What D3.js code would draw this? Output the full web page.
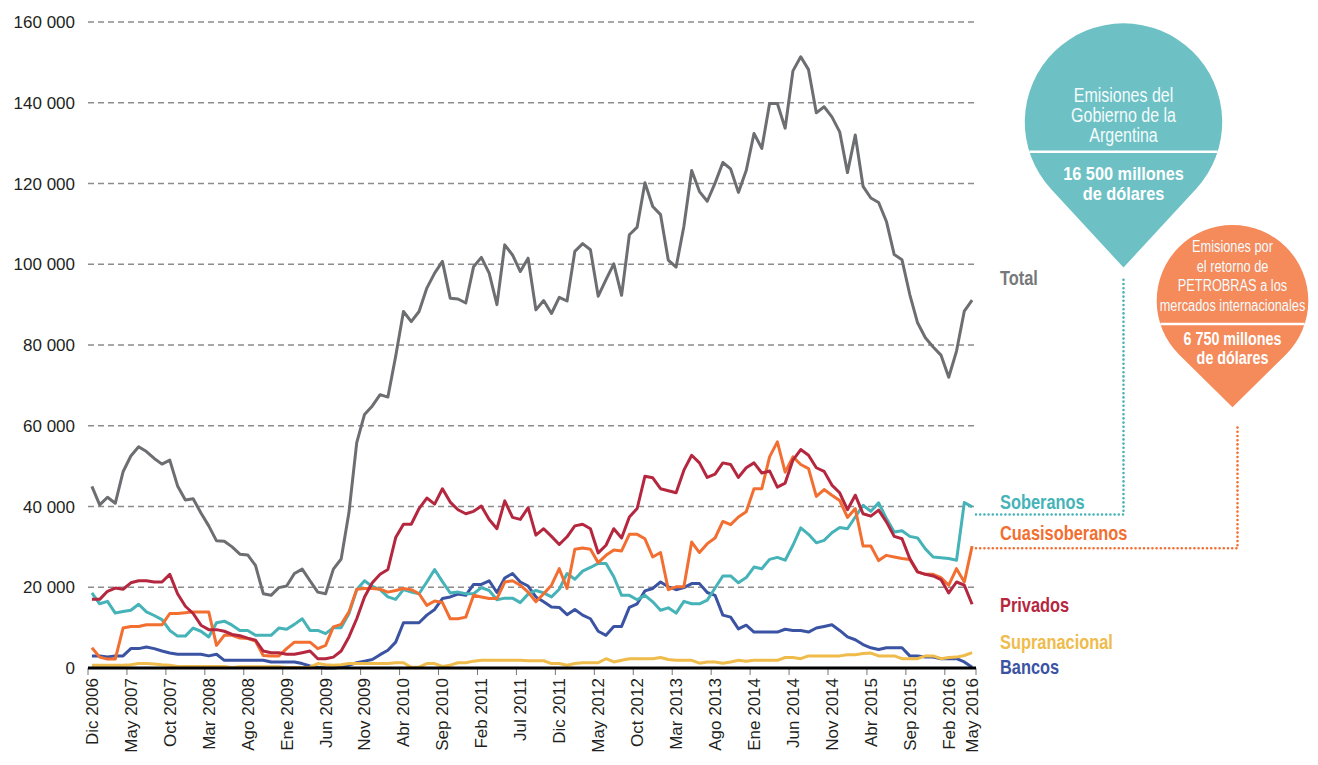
<!DOCTYPE html>
<html>
<head>
<meta charset="utf-8">
<script src="https://cdn.jsdelivr.net/npm/d3@7"></script>
<style>
  body { margin: 0; background: #fff; }
  svg { display: block; }
</style>
</head>
<body>
<script>
// emisiones de deuda, millones de dólares, dic 2006 - may 2016 (mensual)
const tickLabels = ['Dic 2006','May 2007','Oct 2007','Mar 2008','Ago 2008','Ene 2009','Jun 2009','Nov 2009',
  'Abr 2010','Sep 2010','Feb 2011','Jul 2011','Dic 2011','May 2012','Oct 2012','Mar 2013','Ago 2013',
  'Ene 2014','Jun 2014','Nov 2014','Abr 2015','Sep 2015','Feb 2016','May 2016'];
const tickIndex = [0,5,10,15,20,25,30,35,40,45,50,55,60,65,70,75,80,85,90,95,100,105,110,113];
const yTicks = [0,20000,40000,60000,80000,100000,120000,140000,160000];

const total = [45000,40400,42300,40800,48600,52500,54800,53600,51900,50500,
  51500,45100,41600,41900,38400,35200,31500,31400,30000,28200,
  28000,25400,18400,18000,19900,20300,23400,24500,21600,18800,
  18400,24500,27000,38500,55800,62800,64900,67700,67100,77200,
  88300,85800,88300,94100,97800,100700,91600,91400,90400,99400,
  101700,97800,90000,104800,102300,98200,101500,88700,91000,87800,
  91800,90900,103200,105100,103600,92100,96200,100100,92300,107300,
  109200,120200,114300,112300,101000,99300,109400,123200,118000,115600,
  120100,125200,123600,117800,123200,132400,128700,139800,139800,133700,
  147900,151400,148200,137500,139000,136500,132800,122700,132000,119300,
  116400,115300,110600,102400,101100,92500,85500,81800,79500,77500,
  72000,78500,88400,91100];

const privados = [17000,17000,19000,19800,19500,21100,21600,21600,21300,21300,
  23200,18400,15300,13500,10600,9500,9500,9100,8300,8000,
  7400,6900,4200,3800,3800,3400,3400,3800,4200,2300,
  2300,2700,4200,7700,12200,17600,21100,23200,24400,32300,
  35600,35600,39500,42100,40600,44400,41100,39200,38200,38800,
  40100,36800,34500,41400,37300,36800,39700,32900,34500,32600,
  30600,32500,35200,35600,34500,28500,30400,34500,32200,37400,
  39500,47500,47100,44400,43900,43400,49000,52700,50800,47200,
  48000,50800,50400,47200,49600,50800,48300,48800,44800,45800,
  51500,54100,52700,49600,48700,45300,43400,39200,42800,38200,
  37600,39100,36200,32600,32000,27100,23800,23200,22800,21900,
  18600,21300,20500,15800];

const cuasisoberanos = [5000,2700,2200,2200,9900,10300,10300,10700,10700,10700,
  13500,13500,13700,13900,13900,13900,5600,8100,8100,7400,
  7300,6700,3100,3000,3000,4800,6400,6400,6400,4800,
  5600,10200,10800,13900,19500,19700,19700,19500,18800,19200,
  19700,19400,18400,15500,16600,16200,12200,12200,12600,18000,
  17600,17200,17200,21300,21600,20500,18800,16400,18400,20500,
  24600,19700,29400,29700,29400,26100,27900,29200,29000,33100,
  33100,32000,27500,28600,19400,20100,20100,31200,28600,30800,
  32200,36300,35500,37400,38700,44400,44400,52300,56000,48500,
  52300,50400,49400,42500,44200,42800,41500,37300,39500,30200,
  30200,26600,27900,27500,27100,26900,23800,23200,23200,22400,
  20500,24600,21300,30200];

const soberanos = [18600,15900,16500,13600,14000,14300,15800,13900,13000,12000,
  9300,7900,7900,9900,9100,7700,11200,11600,10600,9300,
  9300,8100,8100,8100,9900,9600,10800,12200,9300,9300,
  8500,10000,10000,13500,19400,21600,20200,19400,17600,17000,
  19400,18800,18400,21300,24400,21400,18600,18800,18400,18400,
  19900,19200,16900,17300,17300,16200,18300,19200,18600,17600,
  19500,23400,22000,24000,24900,25900,25900,22600,18000,18000,
  16900,18000,16400,14300,14900,13600,16500,15900,15900,16800,
  19800,22800,22800,21100,22400,25000,24600,26900,27400,26700,
  30400,34700,33100,31000,31600,33500,34800,34500,37400,40300,
  38800,40900,37000,33700,34000,32600,32200,29500,27500,27300,
  27100,26700,41000,39900];

const bancos = [3000,3000,2700,3000,3000,4800,4800,5200,4800,4200,
  3700,3400,3400,3400,3400,3000,3400,1900,1900,1900,
  1900,1900,1900,1500,1500,1500,1500,1100,500,200,
  0,0,200,700,1300,1700,2100,3300,4400,6400,
  11200,11200,11200,13100,14500,17200,17600,18300,18000,20700,
  20700,21600,18700,22300,23400,21300,20300,17600,16400,15100,
  15000,13200,14500,13100,12200,9100,8100,10300,10300,15000,
  15900,19100,19700,21300,20100,19400,19900,20900,20900,18700,
  18000,13100,12600,9700,10600,8900,8900,8900,8900,9600,
  9300,9300,8900,9900,10300,10700,9300,7700,7000,5800,
  5000,4600,5000,5000,5000,3000,3000,2700,2700,2300,
  2300,2300,1500,200];

const supranacional = [700,700,700,700,700,800,1100,1100,1000,800,
  700,400,400,400,400,400,400,400,100,300,
  300,300,300,300,300,100,100,100,200,1100,
  800,700,800,1100,1100,1100,1100,1100,1100,1300,
  1300,200,200,1100,1100,400,700,1300,1300,1700,
  1900,1900,1900,1900,1900,1900,1800,1800,1800,1100,
  1100,700,1100,1300,1300,1300,2300,1500,1900,2300,
  2300,2300,2300,2600,2100,1900,1900,1900,1200,1500,
  1500,1200,1500,1900,1700,1900,1900,1900,1900,2600,
  2600,2300,3000,3000,3000,3000,3000,3300,3300,3600,
  3700,3000,3000,3000,2300,2300,2300,3000,3000,2300,
  2600,2700,3100,3800];

const series = [
  { name: 'Bancos',         values: bancos,         color: '#3b53a3', labelY: 674 },
  { name: 'Supranacional',  values: supranacional,  color: '#efbb4b', labelY: 649 },
  { name: 'Soberanos',      values: soberanos,      color: '#45b3b8', labelY: 509 },
  { name: 'Cuasisoberanos', values: cuasisoberanos, color: '#f26f31', labelY: 540 },
  { name: 'Privados',       values: privados,       color: '#b5263f', labelY: 612 },
  { name: 'Total',          values: total,          color: '#6d6e71', labelY: 285 }
];

const W = 1318, H = 765;
const svg = d3.select('body').append('svg').attr('width', W).attr('height', H);

const n = total.length;
const x = d3.scaleLinear().domain([-0.5, n - 0.5]).range([88, 976]);
const y = d3.scaleLinear().domain([0, 160000]).range([668, 22]);

const fmt = v => d3.format(',')(v).replace(/,/g, ' ');
const axisFont = '"Liberation Sans", Arial, sans-serif';
// condensed look: Arial metrics squeezed horizontally
const squeeze = 0.82;

// gridlines
svg.append('g').selectAll('line')
  .data(yTicks.filter(d => d > 0))
  .join('line')
  .attr('x1', 88).attr('x2', 977)
  .attr('y1', d => y(d)).attr('y2', d => y(d))
  .attr('stroke', '#8c8c8c').attr('stroke-width', 1.3)
  .attr('stroke-dasharray', '6 4');

// y labels
svg.append('g').selectAll('text')
  .data(yTicks)
  .join('text')
  .attr('x', 75).attr('y', d => y(d))
  .attr('dy', '0.36em')
  .attr('text-anchor', 'end')
  .attr('font-family', axisFont).attr('font-size', 17)
  .attr('fill', '#231f20')
  .text(fmt);

// x ticks (between categories)
const tickPos = tickIndex.slice(0, -1).map(i => x(i - 0.5)).concat([x(n - 0.5)]);
svg.append('g').selectAll('line')
  .data(tickPos)
  .join('line')
  .attr('x1', d => d).attr('x2', d => d)
  .attr('y1', 668).attr('y2', 675)
  .attr('stroke', '#777').attr('stroke-width', 1);

// x labels
svg.append('g').selectAll('text')
  .data(tickIndex)
  .join('text')
  .attr('transform', d => `translate(${Math.min(x(d), 974)},678) rotate(-90)`)
  .attr('dy', '0.35em')
  .attr('text-anchor', 'end')
  .attr('font-family', axisFont).attr('font-size', 17)
  .attr('fill', '#231f20')
  .text((d, i) => tickLabels[i]);

// lines
const line = d3.line().x((d, i) => x(i)).y(d => y(d));
svg.append('g').selectAll('path')
  .data(series)
  .join('path')
  .attr('d', s => line(s.values))
  .attr('fill', 'none')
  .attr('stroke', s => s.color)
  .attr('stroke-width', 3)
  .attr('stroke-linejoin', 'round');

// baseline
svg.append('line')
  .attr('x1', 88).attr('x2', 976)
  .attr('y1', y(0)).attr('y2', y(0))
  .attr('stroke', '#000').attr('stroke-width', 3);

// series labels
svg.append('g').selectAll('text')
  .data(series)
  .join('text')
  .attr('transform', s => `translate(1000,${s.labelY}) scale(${squeeze},1)`)
  .attr('font-family', axisFont).attr('font-weight', 'bold').attr('font-size', 20)
  .attr('fill', s => s.name === 'Total' ? '#77787b' : s.color)
  .text(s => s.name);

// teardrop callouts
function pin(cx, cy, r, py) {
  const d = py - cy;
  const t = Math.acos(r / d);
  const tx = r * Math.sin(t), ty = r * Math.cos(t);
  return `M${cx},${py} L${cx + tx},${cy + ty} A${r},${r} 0 1 0 ${cx - tx},${cy + ty} Z`;
}

const callouts = [
  { cx: 1123.5, cy: 122, r: 98.7, py: 267.5, fill: '#6dc1c5', divY: 151.7,
    lines: ['Emisiones del', 'Gobierno de la', 'Argentina'], lineY: [101.7, 121.7, 141.7], fs: 19.5,
    bold: ['16 500 millones', 'de dólares'], boldY: [180, 200], bfs: 19, bsq: 0.86,
    lead: [[976, 514.5], [1123.5, 514.5], [1123.5, 276]], leadColor: '#45b3b8' },
  { cx: 1232.5, cy: 300.8, r: 75.8, py: 407.3, fill: '#f58a5b', divY: 324,
    lines: ['Emisiones por', 'el retorno de', 'PETROBRAS a los', 'mercados internacionales'],
    lineY: [251.7, 271.5, 291, 311], fs: 15.6,
    bold: ['6 750 millones', 'de dólares'], boldY: [345, 364], bfs: 17.5, bsq: 0.82,
    lead: [[976, 548.3], [1237.5, 548.3], [1237.5, 425]], leadColor: '#f26f31' }
];

callouts.forEach(c => {
  const g = svg.append('g');
  g.append('path').attr('d', pin(c.cx, c.cy, c.r, c.py)).attr('fill', c.fill);
  const hw = Math.sqrt(c.r * c.r - (c.divY - c.cy) ** 2);
  g.append('line')
    .attr('x1', c.cx - hw).attr('x2', c.cx + hw)
    .attr('y1', c.divY).attr('y2', c.divY)
    .attr('stroke', '#fff').attr('stroke-width', 2.5);
  g.selectAll('text.l').data(c.lines).join('text').attr('class', 'l')
    .attr('transform', (d, i) => `translate(${c.cx},${c.lineY[i]}) scale(${squeeze},1)`)
    .attr('text-anchor', 'middle')
    .attr('font-family', axisFont).attr('font-size', c.fs)
    .attr('fill', '#f4fbfb')
    .text(d => d);
  g.selectAll('text.b').data(c.bold).join('text').attr('class', 'b')
    .attr('transform', (d, i) => `translate(${c.cx},${c.boldY[i]}) scale(${c.bsq},1)`)
    .attr('text-anchor', 'middle')
    .attr('font-family', axisFont).attr('font-weight', 'bold').attr('font-size', c.bfs)
    .attr('fill', '#fff')
    .text(d => d);
  svg.append('path')
    .attr('d', d3.line()(c.lead))
    .attr('fill', 'none')
    .attr('stroke', c.leadColor).attr('stroke-width', 2.6)
    .attr('stroke-linecap', 'round')
    .attr('stroke-dasharray', '0 4.2');
});
</script>
</body>
</html>
